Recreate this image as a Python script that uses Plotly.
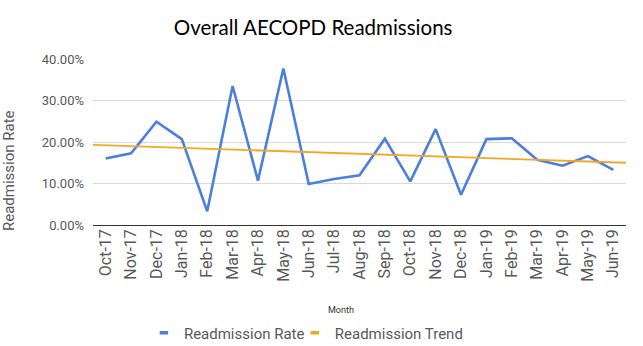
import numpy as np
import plotly.graph_objects as go

months = ["Oct-17", "Nov-17", "Dec-17", "Jan-18", "Feb-18", "Mar-18", "Apr-18",
          "May-18", "Jun-18", "Jul-18", "Aug-18", "Sep-18", "Oct-18", "Nov-18",
          "Dec-18", "Jan-19", "Feb-19", "Mar-19", "Apr-19", "May-19", "Jun-19"]
readmission_rate = [0.160, 0.173, 0.249, 0.207, 0.033, 0.335, 0.107,
                    0.377, 0.099, 0.111, 0.120, 0.208, 0.105, 0.231,
                    0.073, 0.207, 0.209, 0.157, 0.143, 0.166, 0.133]
y_ticks = [0.0, 0.1, 0.2, 0.3, 0.4]

idx = np.arange(len(months))

# Least-squares linear trendline, drawn across the full plot width
slope, intercept = np.polyfit(idx, readmission_rate, 1)
trend_x = np.array([-0.5, len(months) - 0.5])
trend_y = intercept + slope * trend_x

BLUE = "#4a7fdc"
ORANGE = "#f5a623"
GREY_TEXT = "#595959"

fig = go.Figure()
fig.add_trace(go.Scatter(
    x=idx, y=readmission_rate, mode="lines", name="Readmission Rate",
    line=dict(color=BLUE, width=2.6), showlegend=False,
))
fig.add_trace(go.Scatter(
    x=trend_x, y=trend_y, mode="lines", name="Readmission Trend",
    line=dict(color=ORANGE, width=1.8), showlegend=False,
))

# Legend entries with short dash keys, one legend box per entry
for name, color, leg in [("Readmission Rate", BLUE, "legend"),
                         ("Readmission Trend", ORANGE, "legend2")]:
    fig.add_trace(go.Scatter(
        x=[None], y=[None], mode="markers", name=name, legend=leg,
        marker=dict(symbol="line-ew", size=6, color=color,
                    line=dict(color=color, width=3.5)),
    ))

legend_font = dict(family="Roboto", size=15, color=GREY_TEXT)

fig.update_layout(
    width=643, height=346,
    margin=dict(l=93, r=17, t=59, b=121, autoexpand=False),
    paper_bgcolor="white", plot_bgcolor="white",
    title=dict(text="Overall AECOPD Readmissions", xref="container", x=0.487,
               xanchor="center", y=0.92, yanchor="middle",
               font=dict(family="Lato", size=20.5, color="#000000")),
    showlegend=True,
    legend=dict(orientation="h", x=0.0955, xanchor="left", y=-0.65, yanchor="middle",
                font=legend_font, itemwidth=30, bgcolor="rgba(0,0,0,0)"),
    legend2=dict(orientation="h", x=0.3786, xanchor="left", y=-0.65, yanchor="middle",
                 font=legend_font, itemwidth=30, bgcolor="rgba(0,0,0,0)"),
    xaxis=dict(
        range=[-0.5, len(months) - 0.5], automargin=False,
        tickmode="array", tickvals=idx, ticktext=months, tickangle=-90,
        tickfont=dict(family="Roboto", size=16, color=GREY_TEXT),
        showgrid=False, zeroline=False, showline=False, ticks="",
    ),
    yaxis=dict(
        range=[0, 0.4], tickmode="array", tickvals=y_ticks, automargin=False,
        tickformat=".2%",
        tickfont=dict(family="Roboto", size=13, color=GREY_TEXT),
        showgrid=True, gridcolor="#d9d9d9", gridwidth=1,
        zeroline=True, zerolinecolor="#333333", zerolinewidth=1,
        ticks="", ticklabelstandoff=8,
    ),
    annotations=[
        dict(text="Readmission Rate", textangle=-90, xref="paper", yref="paper",
             x=-0.1576, y=0.331, xanchor="center", yanchor="middle", showarrow=False,
             font=dict(family="Roboto", size=15, color=GREY_TEXT)),
        dict(text="Month", xref="paper", yref="paper",
             x=(341 - 93) / 533, y=-(310 - 225) / 166, xanchor="center",
             yanchor="middle", showarrow=False,
             font=dict(family="Roboto", size=9, color="#333333")),
    ],
)

fig.write_html("out.html")
